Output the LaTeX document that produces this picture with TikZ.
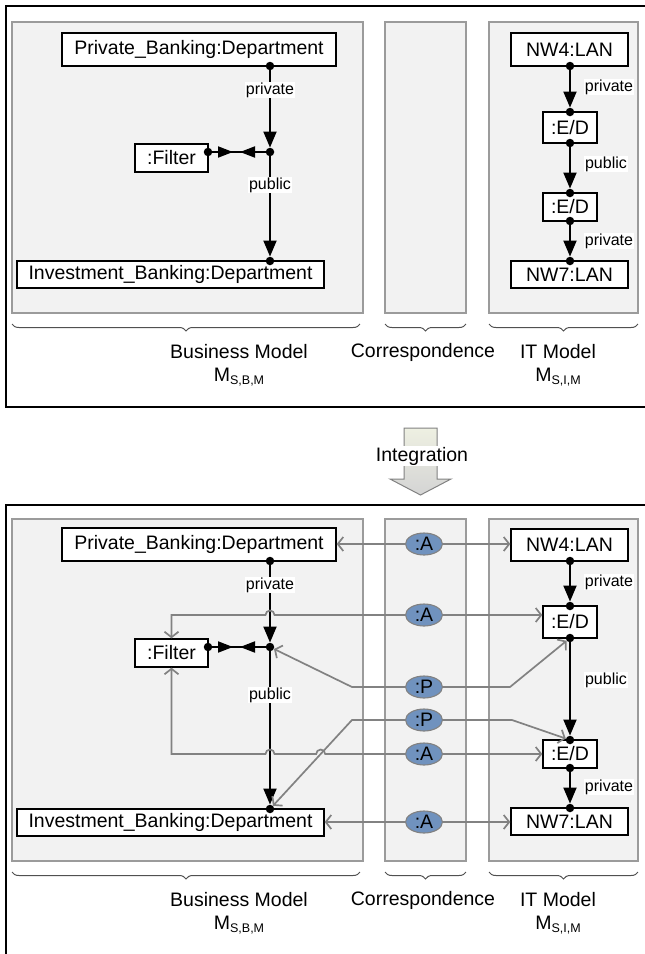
\documentclass[tikz,border=0pt]{standalone}
\usepackage{fontspec}
\setmainfont{Liberation Sans}
\usetikzlibrary{arrows.meta,shapes.geometric,decorations.pathreplacing,calc}
\definecolor{panelfill}{RGB}{242,242,242}
\definecolor{panelline}{RGB}{155,155,155}
\definecolor{gline}{RGB}{130,130,130}
\definecolor{ellfill}{RGB}{112,146,190}
\definecolor{arrtop}{RGB}{238,240,226}
\definecolor{arrbot}{RGB}{212,212,212}
\definecolor{brcol}{RGB}{80,80,80}
\newcommand\bigf{\fontsize{19.5}{22}\selectfont}
\newcommand\smallf{\fontsize{16}{18}\selectfont}
\newcommand\subf{\fontsize{12.5}{14}\selectfont}
\newcommand\msub[1]{M{\subf\raisebox{-0.45ex}{#1}}}
\begin{document}
\begin{tikzpicture}[x=1pt,y=-1pt,
  panel/.style={fill=panelfill,draw=panelline,line width=1.3pt},
  obj/.style={draw=black,fill=white,line width=1.4pt,inner sep=0pt,font=\bigf},
  dot/.style={circle,fill=black,inner sep=0pt,minimum size=8.5pt},
  lab/.style={fill=white,inner sep=1pt,font=\smallf},
  blk/.style={line width=1.9pt,-{Triangle[length=16pt,width=13pt]}},
  blks/.style={line width=1.9pt,-{Triangle[length=15pt,width=11pt]}},
  blkline/.style={line width=1.9pt},
  corr/.style={ellipse,draw=gline,fill=ellfill,line width=1.1pt,minimum width=37pt,minimum height=22pt,inner sep=0pt,font=\bigf},
  gl/.style={draw=gline,line width=1.7pt,-{Straight Barb[length=5.5pt,width=14pt]}},
  frame/.style={draw=black,line width=1.4pt},
  brc/.style={decorate,decoration={brace,mirror,amplitude=7pt},draw=brcol,line width=1pt},
  caption/.style={font=\bigf,inner sep=0pt},
]
\useasboundingbox[fill=white] (0,0) rectangle (645,954);

% ================= TOP =================
\draw[frame] (660,6) -- (6,6) -- (6,407) -- (660,407);
\draw[panel] (12,22) rectangle (363,313);
\draw[panel] (385,22) rectangle (466,313);
\draw[panel] (489,22) rectangle (638,313);

\node[obj,minimum width=274pt,minimum height=33pt] (pb) at (199,49.5) {Private\_Banking:Department};
\node[obj,minimum width=307pt,minimum height=27pt] (ib) at (170.5,274.5) {Investment\_Banking:Department};
\node[obj,minimum width=73pt,minimum height=28pt] (fi) at (171.5,158) {:Filter};
\node[obj,minimum width=117pt,minimum height=33pt] (nw4) at (569.5,49.5) {NW4:LAN};
\node[obj,minimum width=54pt,minimum height=31pt] (ed1) at (570,127.5) {:E/D};
\node[obj,minimum width=54pt,minimum height=28pt] (ed2) at (570,207) {:E/D};
\node[obj,minimum width=117pt,minimum height=27pt] (nw7) at (569.5,274.5) {NW7:LAN};

\node[dot] (pbd) at (270,66) {};
\node[dot] (j1) at (270,152) {};
\node[dot] (ibd) at (270,261) {};
\node[dot] (fd) at (208,152) {};
\coordinate (ft1) at (233,152);
\coordinate (ft2) at (240,152);
\node[dot] (n4d) at (570,66) {};
\node[dot] (e1t) at (570,112) {};
\node[dot] (e1b) at (570,143) {};
\node[dot] (e2t) at (570,193) {};
\node[dot] (e2b) at (570,221) {};
\node[dot] (n7d) at (570,261) {};

\draw[blk] (pbd) -- (j1);
\draw[blk] (j1) -- (ibd);
\draw[blkline] (fd) -- (j1);
\draw[blks] (fd) -- (ft1);
\draw[blks] (j1) -- (ft2);
\draw[blk] (n4d) -- (e1t);
\draw[blk] (e1b) -- (e2t);
\draw[blk] (e2b) -- (n7d);

\node[lab] at (270,90) {private};
\node[lab] at (270,185) {public};
\node[lab] at (609,87) {private};
\node[lab] at (606,164) {public};
\node[lab] at (609,241) {private};

\draw[brc] (12,324) -- (360,324);
\draw[brc] (385,324) -- (466,324);
\draw[brc] (489,324) -- (638,324);
\node[caption] at (239,352) {Business Model};
\node[caption] at (239,377) {\msub{S,B,M}};
\node[caption] at (423,352) {Correspondence};
\node[caption] at (558,352) {IT Model};
\node[caption] at (558,377) {\msub{S,I,M}};

% ================= INTEGRATION ARROW =================
\shade[top color=arrtop,bottom color=arrbot,draw=gline,line width=1pt]
  (404,428) -- (437,428) -- (437,479) -- (451,479) -- (420.5,495) -- (390,479) -- (404,479) -- cycle;
\node[font=\bigf,fill=white,inner sep=1pt] (integ) at (422,456) {Integration};

% ================= BOTTOM =================
\draw[frame] (660,505) -- (6,505) -- (6,970);
\draw[panel] (12,519) rectangle (363,861);
\draw[panel] (385,519) rectangle (466,861);
\draw[panel] (489,519) rectangle (638,861);

\node[obj,minimum width=274pt,minimum height=33pt] (pb2) at (199,544.5) {Private\_Banking:Department};
\node[obj,minimum width=307pt,minimum height=27pt] (ib2) at (170.5,822.5) {Investment\_Banking:Department};
\node[obj,minimum width=73pt,minimum height=28pt] (fi2) at (171.5,653) {:Filter};
\node[obj,minimum width=117pt,minimum height=32pt] (nw42) at (569.5,545) {NW4:LAN};
\node[obj,minimum width=54pt,minimum height=32pt] (ed12) at (570,622) {:E/D};
\node[obj,minimum width=54pt,minimum height=28pt] (ed22) at (570,754) {:E/D};
\node[obj,minimum width=117pt,minimum height=27pt] (nw72) at (569.5,821.5) {NW7:LAN};

\node[dot] (pbd2) at (270,561) {};
\node[dot] (j2) at (270,647) {};
\node[dot] (ibd2) at (270,809) {};
\node[dot] (fd2) at (208,647) {};
\coordinate (ft3) at (233,647);
\coordinate (ft4) at (240,647);
\node[dot] (n4d2) at (570,561) {};
\node[dot] (e1t2) at (570,606) {};
\node[dot] (e1b2) at (570,638) {};
\node[dot] (e2t2) at (570,740) {};
\node[dot] (e2b2) at (570,768) {};
\node[dot] (n7d2) at (570,808) {};

\draw[blk] (pbd2) -- (j2);
\draw[blk] (j2) -- (ibd2);
\draw[blkline] (fd2) -- (j2);
\draw[blks] (fd2) -- (ft3);
\draw[blks] (j2) -- (ft4);
\draw[blk] (n4d2) -- (e1t2);
\draw[blk] (e1b2) -- (e2t2);
\draw[blk] (e2b2) -- (n7d2);

\node[lab] at (270,585) {private};
\node[lab] at (270,695) {public};
\node[lab] at (609,582) {private};
\node[lab] at (606,680) {public};
\node[lab] at (609,787) {private};

% correspondence nodes
\node[corr] (A1) at (424,544) {:A};
\node[corr] (A2) at (424,615) {:A};
\node[corr] (P1) at (424,687) {:P};
\node[corr] (P2) at (424,720) {:P};
\node[corr] (A3) at (424,754) {:A};
\node[corr] (A4) at (424,822) {:A};

\draw[gl] (A1) -- (A1 -| pb2.east);
\draw[gl] (A1) -- (A1 -| nw42.west);
\draw[gl] (A2) -- (A2 -| ed12.west);
\draw[gl] (A2.west) -- (274.5,615) arc[start angle=0,end angle=-180,radius=4.5] -- (fi2.north |- A2) -- (fi2.north);
\draw[gl] (P1.west) -- (352,687) -- (j2);
\draw[gl] (P1.east) -- (510,687) -- (e1b2);
\draw[gl] (P2.west) -- (352,720) -- (ibd2);
\draw[gl] (P2.east) -- (512,720) -- (e2t2);
\draw[gl] (A3) -- (A3 -| ed22.west);
\draw[gl] (A3.west) -- (325.2,754) arc[start angle=0,end angle=-180,radius=4.5] -- (274.5,754) arc[start angle=0,end angle=-180,radius=4.5] -- (fi2.south |- A3) -- (fi2.south);
\draw[gl] (A4) -- (A4 -| ib2.east);
\draw[gl] (A4) -- (A4 -| nw72.west);

\draw[brc] (12,872) -- (360,872);
\draw[brc] (385,872) -- (466,872);
\draw[brc] (489,872) -- (638,872);
\node[caption] at (239,900) {Business Model};
\node[caption] at (239,925) {\msub{S,B,M}};
\node[caption] at (423,900) {Correspondence};
\node[caption] at (558,900) {IT Model};
\node[caption] at (558,925) {\msub{S,I,M}};
\end{tikzpicture}
\end{document}
